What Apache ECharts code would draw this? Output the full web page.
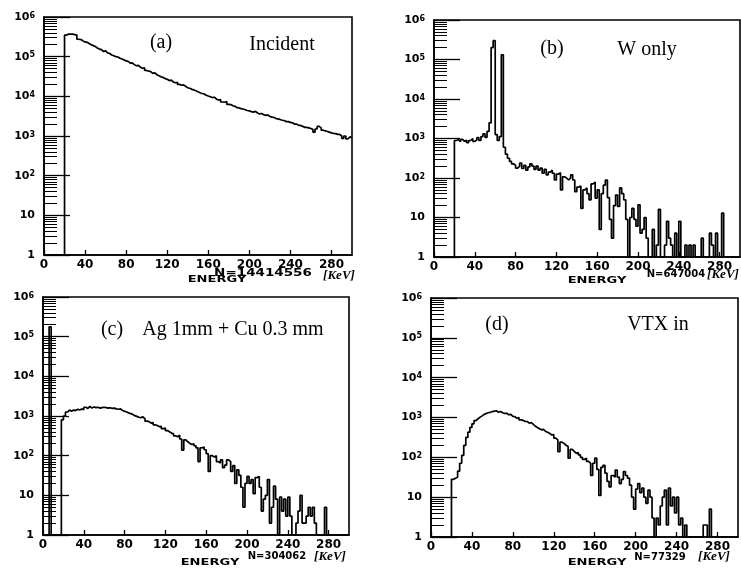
<!DOCTYPE html>
<html><head><meta charset="utf-8">
<script src="https://cdn.jsdelivr.net/npm/echarts@6/dist/echarts.min.js"></script>
<style>html,body{margin:0;padding:0;background:#fff}#c{width:741px;height:572px}</style>
</head><body><div id="c"></div>
<script>
// ---- data ----
const BIN_WIDTH = 2;          // keV per histogram bin
const X_MIN = 0, X_MAX = 300; // keV
const xTickValues = [0, 40, 80, 120, 160, 200, 240, 280];
const yTickValues = [1, 10, 100, 1000, 10000, 100000, 1000000];
const yTickLabels = ['1', '10', '10{s|2}', '10{s|3}', '10{s|4}', '10{s|5}', '10{s|6}'];
const panelTags = ['(a)', '(b)', '(c)', '(d)'];
const panelNames = ['Incident', 'W only', 'Ag 1mm + Cu 0.3 mm', 'VTX in'];
const entriesText = ['N=14414556', 'N=647004', 'N=304062', 'N=77329'];

// counts per 2 keV bin, bins starting at 0 keV (1 = empty bin, drawn on the axis)
const countsA = [
  1,1,1,1,1,1,1,1,1,1,
  350000,370000,370000,370000,360000,350000,275000,270000,250000,235000,
  230000,215000,200000,190000,180000,165000,155000,150000,135000,140000,
  125000,120000,110000,105000,100000,98000,91000,87000,83000,78000,
  76000,69000,70000,63000,59000,60000,54000,51000,52000,45000,
  43000,42000,38000,39000,35000,33000,31000,30000,28000,27000,
  25000,25500,23000,22000,22500,20000,19000,19500,17800,16500,
  16000,15000,14500,13800,13000,12300,11800,11500,10700,10200,
  9800,9300,9500,8500,8100,8300,7200,7100,7400,6300,
  6200,5800,5600,5200,5100,4900,4800,4600,4400,4300,
  4100,4000,4200,3800,3600,3700,3450,3300,3400,3100,
  3000,2950,2750,2700,2600,2500,2450,2300,2300,2200,
  2150,2000,2000,1850,1850,1750,1650,1650,1600,1550,
  1450,1250,1500,1750,1600,1400,1350,1300,1250,1200,
  1170,1150,1100,1100,1000,870,1000,850,950,900
];
const countsB = [
  1,1,1,1,1,1,1,1,1,1,
  890,930,830,950,850,910,790,890,1000,850,
  910,1050,890,1120,1320,1070,1510,2500,200000,300000,
  1260,890,1120,132000,600,400,316,263,229,209,
  178,200,240,174,209,158,191,229,200,166,
  200,158,178,132,166,120,141,158,132,89,
  126,135,50,107,100,89,100,120,89,45,
  59,63,17,50,56,40,28,71,79,31,
  50,5,40,66,89,32,9,3,20,37,
  19,56,40,28,9,1,10,17,9,6,
  21,4,5,10,3,1,1,5,1,2,
  16,1,1,2,8,3,2,1,4,1,
  8,1,1,2,1,2,1,2,1,1,
  1,3,1,1,1,4,2,1,4,1,
  1,13,1,1,1,1,1,1,1,1
];
const countsC = [
  1,1,1,178000,1,1,1,1,1,800,
  1000,1260,1410,1320,1410,1380,1480,1410,1510,1450,
  1660,1550,1740,1580,1700,1620,1660,1580,1620,1660,
  1620,1580,1620,1550,1580,1510,1480,1510,1380,1320,
  1260,1200,1150,1100,1020,980,930,910,950,850,
  740,720,660,680,600,575,540,550,480,500,
  430,400,370,355,316,300,330,263,138,251,
  224,204,191,200,178,158,71,158,166,141,
  112,40,100,93,100,71,65,79,50,58,
  78,71,40,56,20,44,32,16,5,20,
  30,20,25,11,28,30,16,4,8,10,
  25,2,5,17,8,1,9,4,8,3,
  9,3,1,1,2,4,10,2,2,3,
  5,3,5,2,1,1,1,1,5,1,
  1,1,1,1,1,1,1,1,1,1
];
const countsD = [
  1,1,1,1,1,1,1,1,1,1,
  28,30,32,45,71,112,200,316,427,562,
  692,832,933,1020,1100,1200,1260,1320,1350,1410,
  1450,1480,1350,1410,1320,1260,1290,1170,1200,1070,
  1050,955,1000,870,850,794,794,724,741,676,
  603,562,525,490,501,447,427,398,363,372,
  302,275,138,240,224,200,186,95,158,141,
  126,132,115,100,89,95,79,71,35,71,
  95,50,11,56,63,40,25,18,35,32,
  48,32,22,28,44,35,30,20,10,5,
  16,22,13,17,10,7,15,10,3,1,
  3,2,6,10,15,2,17,6,10,4,
  10,2,3,1,2,1,1,1,1,1,
  1,1,1,2,2,1,5,1,1,1,
  1,1,1,1,1,1,1,1,1,1
];
const allCounts = [countsA, countsB, countsC, countsD];

// ---- layout ----
const grids = [
  {left: 44, top: 17, width: 308, height: 238},
  {left: 434, top: 20, width: 306, height: 237},
  {left: 43, top: 297, width: 306, height: 238},
  {left: 431, top: 298, width: 307, height: 239}
];
const tagPos = [[161, 43], [552, 49], [112, 330], [497, 325]];
const namePos = [[282, 45], [647, 50], [233, 330], [658, 325]];
const entriesPos = [[263, 273], [676, 274], [277, 556], [660, 557]];
const entriesScale = [1.35, 1.0, 1.0, 1.0];
const unitPos = [[339, 276], [723, 275], [330, 557], [714, 557]];
const energyPos = [[217, 280], [597, 281], [210, 563], [597, 563]];

function histData(counts) {
  const d = counts.map((c, i) => [X_MIN + i * BIN_WIDTH, c]);
  d.push([X_MIN + counts.length * BIN_WIDTH, counts[counts.length - 1]]);
  return d;
}
function yLabel(v) {
  const i = yTickValues.findIndex(t => Math.abs(t - v) / t < 1e-6);
  return i >= 0 ? yTickLabels[i] : '';
}
const black = '#000';
const option = {
  animation: false,
  backgroundColor: '#fff',
  grid: grids.map(g => Object.assign({show: true, borderColor: black, borderWidth: 1.6, containLabel: false}, g)),
  xAxis: grids.map((g, i) => ({
    type: 'value', gridIndex: i, min: X_MIN, max: X_MAX, interval: 40,
    axisLine: {show: true, lineStyle: {color: black, width: 1.6}},
    axisTick: {show: true, inside: true, length: 5, lineStyle: {color: black, width: 1.3}},
    axisLabel: {show: true, showMaxLabel: false, color: black, fontFamily: 'DejaVu Sans', fontWeight: 'bold', fontSize: 12, margin: 4,
      formatter: v => xTickValues.indexOf(v) >= 0 ? String(v) : ''},
    splitLine: {show: false}
  })),
  yAxis: grids.map((g, i) => ({
    type: 'log', logBase: 10, gridIndex: i, min: 1, max: 1e6, interval: 1, splitNumber: 6,
    axisLine: {show: true, lineStyle: {color: black, width: 1.6}},
    axisTick: {show: true, inside: true, length: 26, lineStyle: {color: black, width: 1.3}},
    minorTick: {show: true, splitNumber: 9, length: 13, lineStyle: {color: black, width: 1}},
    axisLabel: {show: true, color: black, fontFamily: 'DejaVu Sans', fontWeight: 'bold', fontSize: 11, margin: 9,
      formatter: yLabel,
      rich: {s: {fontFamily: 'DejaVu Sans', fontWeight: 'bold', fontSize: 8, verticalAlign: 'top', lineHeight: 9}}},
    splitLine: {show: false}, minorSplitLine: {show: false}
  })),
  series: allCounts.map((c, i) => ({
    type: 'line', xAxisIndex: i, yAxisIndex: i, step: 'end', showSymbol: false, symbol: 'none',
    lineStyle: {color: black, width: 1.7}, data: histData(c), clip: true
  })),
  graphic: [].concat(
    panelTags.map((t, i) => ({type: 'text', x: tagPos[i][0], y: tagPos[i][1],
      style: {text: t, font: '20px "Liberation Serif"', fill: black, align: 'center', verticalAlign: 'middle'}})),
    panelNames.map((t, i) => ({type: 'text', x: namePos[i][0], y: namePos[i][1],
      style: {text: t, font: '20px "Liberation Serif"', fill: black, align: 'center', verticalAlign: 'middle'}})),
    entriesText.map((t, i) => ({type: 'text', x: entriesPos[i][0], y: entriesPos[i][1], scaleX: entriesScale[i],
      style: {text: t, font: 'bold 10px "DejaVu Sans"', fill: black, align: 'center', verticalAlign: 'middle'}})),
    unitPos.map(p => ({type: 'text', x: p[0], y: p[1],
      style: {text: '[KeV]', font: 'italic bold 13px "Liberation Serif"', fill: black, align: 'center', verticalAlign: 'middle'}})),
    energyPos.map(p => ({type: 'text', x: p[0], y: p[1], scaleX: 1.45,
      style: {text: 'ENERGY', font: 'bold 9px "DejaVu Sans"', fill: black, align: 'center', verticalAlign: 'middle'}}))
  )
};
const chart = echarts.init(document.getElementById('c'), null, {renderer: 'canvas'});
chart.setOption(option);
</script>
</body></html>
